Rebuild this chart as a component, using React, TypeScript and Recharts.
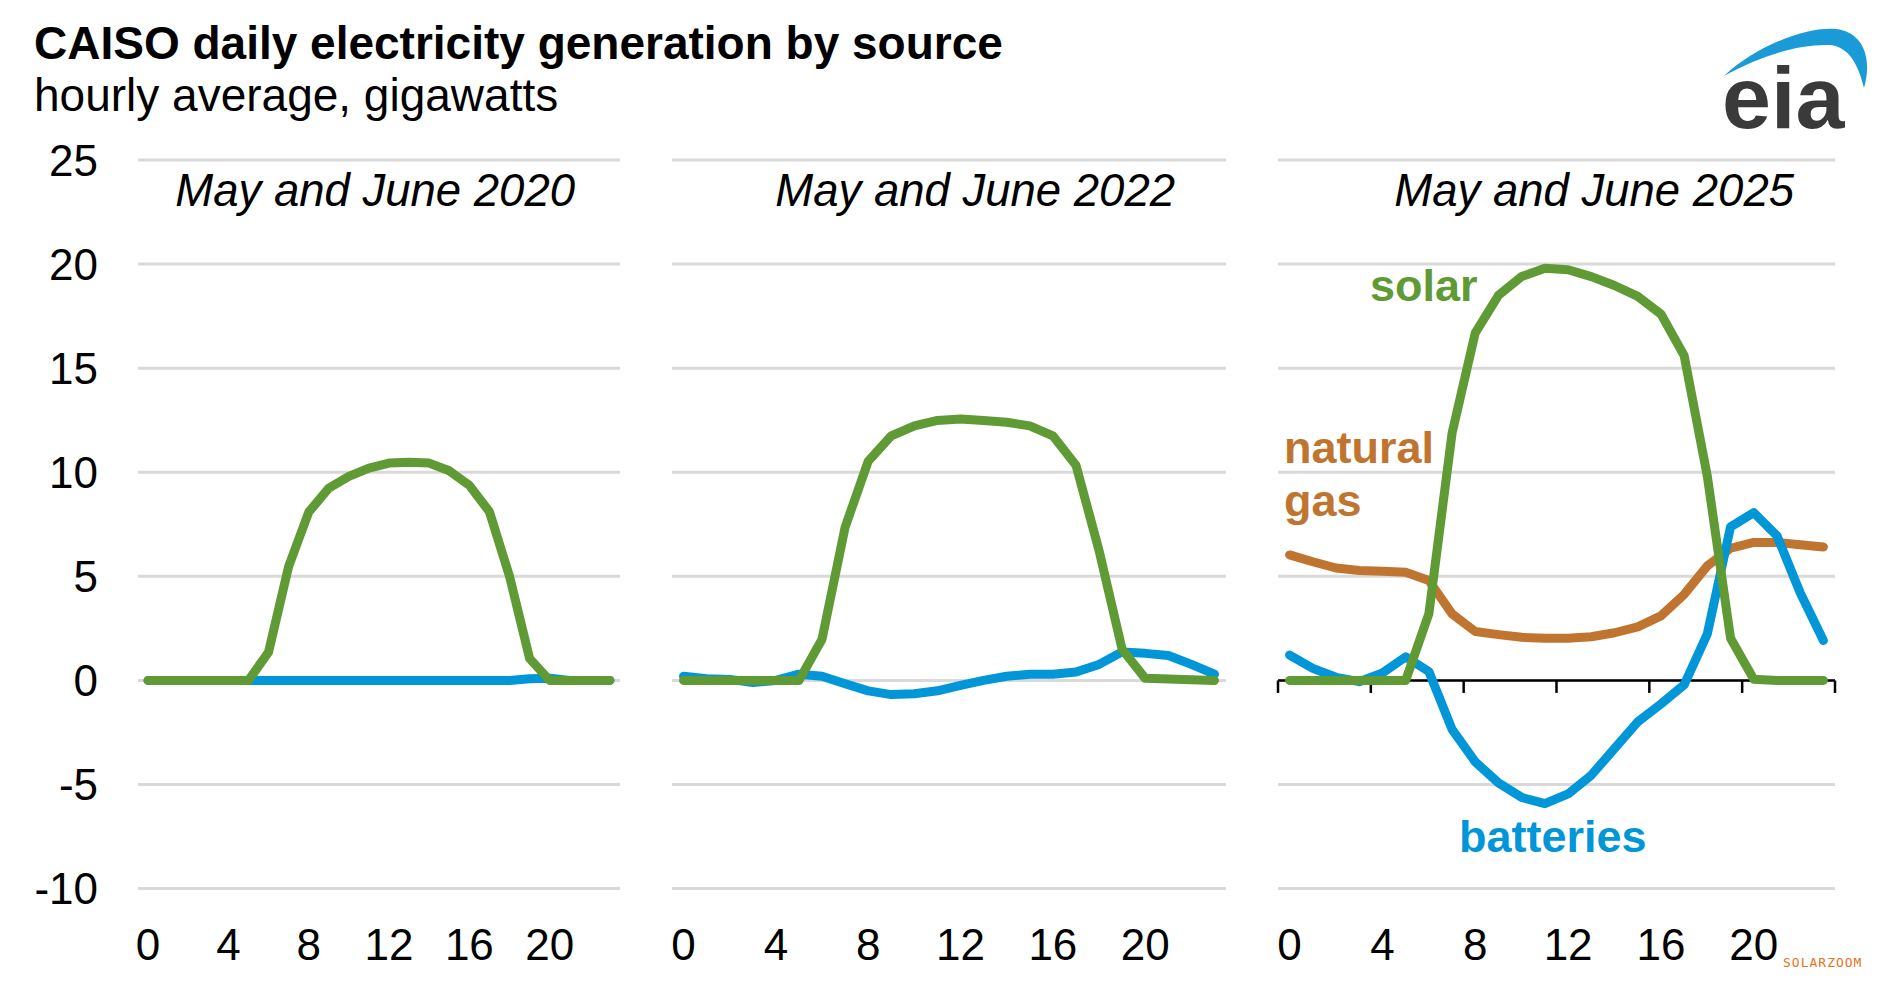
import React from 'react';
import { LineChart, Line, XAxis, YAxis, CartesianGrid, ReferenceLine } from 'recharts';

const hours = [0, 1, 2, 3, 4, 5, 6, 7, 8, 9, 10, 11, 12, 13, 14, 15, 16, 17, 18, 19, 20, 21, 22, 23];
const hourTicks = [0, 4, 8, 12, 16, 20];
const gwTicks = [-10, -5, 0, 5, 10, 15, 20, 25];
// category edges for the tick marks on the 2025 zero axis
const hourEdges = [-0.5, 3.5, 7.5, 11.5, 15.5, 19.5, 23.5];

const solar2020 = [0, 0, 0, 0, 0, 0, 1.36, 5.47, 8.08, 9.24, 9.8, 10.2, 10.44, 10.48, 10.44, 10.07, 9.37, 8.1, 5.0, 1.05, 0, 0, 0, 0];
const batteries2020 = [0, 0, 0, 0, 0, 0, 0, 0, 0, 0, 0, 0, 0, 0, 0, 0, 0, 0, 0, 0.08, 0.1, 0, 0, 0];

const solar2022 = [0, 0, 0, 0, 0, 0, 1.98, 7.36, 10.53, 11.75, 12.23, 12.49, 12.56, 12.49, 12.4, 12.23, 11.75, 10.34, 6.24, 1.5, 0.1, 0.07, 0.03, 0];
const batteries2022 = [0.2, 0.08, 0.05, -0.1, 0, 0.3, 0.2, -0.16, -0.5, -0.68, -0.64, -0.5, -0.24, 0, 0.2, 0.3, 0.3, 0.4, 0.77, 1.37, 1.3, 1.2, 0.77, 0.3];

const solar2025 = [0, 0, 0, 0, 0, 0, 3.2, 11.87, 16.7, 18.5, 19.4, 19.8, 19.73, 19.4, 18.97, 18.45, 17.6, 15.6, 9.8, 2.03, 0.06, 0, 0, 0];
const gas2025 = [6.03, 5.7, 5.4, 5.28, 5.24, 5.2, 4.8, 3.2, 2.35, 2.2, 2.07, 2.03, 2.03, 2.1, 2.29, 2.57, 3.1, 4.13, 5.5, 6.35, 6.63, 6.63, 6.52, 6.41];
const batteries2025 = [1.22, 0.58, 0.15, -0.06, 0.36, 1.13, 0.43, -2.35, -3.91, -4.92, -5.62, -5.92, -5.45, -4.55, -3.27, -1.99, -1.13, -0.21, 2.24, 7.38, 8.06, 6.95, 4.21, 1.92];

const SOLAR = '#5f9a35';
const BATT = '#0096d7';
const GAS = '#bf7530';
const FONT = '"Liberation Sans", Arial, sans-serif';
const LW = 9;

const rows2020 = hours.map((h, i) => ({ hour: h, solar: solar2020[i], batteries: batteries2020[i] }));
const rows2022 = hours.map((h, i) => ({ hour: h, solar: solar2022[i], batteries: batteries2022[i] }));
const rows2025 = hours.map((h, i) => ({ hour: h, solar: solar2025[i], gas: gas2025[i], batteries: batteries2025[i] }));

const tickStyle = { fontSize: 44, fill: '#000', fontFamily: FONT };

function Panel({ data, left, width, margin, showY, zeroAxis, withGas }) {
  return (
    <div style={{ position: 'absolute', left, top: 0 }}>
      <LineChart width={width} height={998} data={data} margin={margin}>
        <CartesianGrid horizontal vertical={false} stroke="#d9d9d9" strokeWidth={3} />
        <XAxis
          type="number"
          dataKey="hour"
          domain={[-0.5, 23.5]}
          ticks={hourTicks}
          interval={0}
          axisLine={false}
          tickLine={false}
          tickMargin={34}
          height={90}
          tick={tickStyle}
        />
        <YAxis
          hide={!showY}
          domain={[-10, 25]}
          ticks={gwTicks}
          interval={0}
          axisLine={false}
          tickLine={false}
          tickMargin={34}
          width={138}
          tick={tickStyle}
        />
        {zeroAxis && <ReferenceLine y={0} stroke="#000" strokeWidth={2.5} />}
        {zeroAxis &&
          hourEdges.map((e) => (
            <ReferenceLine
              key={e}
              segment={[{ x: e, y: 0 }, { x: e, y: -0.6 }]}
              stroke="#000"
              strokeWidth={2.5}
            />
          ))}
        {withGas && (
          <Line type="linear" dataKey="gas" stroke={GAS} strokeWidth={LW} dot={false}
            strokeLinecap="round" strokeLinejoin="round" isAnimationActive={false} />
        )}
        <Line type="linear" dataKey="batteries" stroke={BATT} strokeWidth={LW} dot={false}
          strokeLinecap="round" strokeLinejoin="round" isAnimationActive={false} />
        <Line type="linear" dataKey="solar" stroke={SOLAR} strokeWidth={LW} dot={false}
          strokeLinecap="round" strokeLinejoin="round" isAnimationActive={false} />
      </LineChart>
    </div>
  );
}

export default function App() {
  const panelTitle = { fontSize: 45.5, fontStyle: 'italic', fill: '#000', fontFamily: FONT };
  const seriesLabel = { fontSize: 45, fontWeight: 'bold', fontFamily: FONT };
  return (
    <div style={{ position: 'absolute', left: 0, top: 0, width: 1885, height: 998, background: '#fff', overflow: 'hidden' }}>
      <Panel data={rows2020} left={0} width={640} margin={{ top: 160, right: 20, bottom: 19.4, left: 0 }} showY />
      <Panel data={rows2022} left={652} width={594} margin={{ top: 160, right: 20, bottom: 19.4, left: 20 }} />
      <Panel data={rows2025} left={1258} width={597} margin={{ top: 160, right: 20, bottom: 19.4, left: 20 }} zeroAxis withGas />

      <svg width={1885} height={998} style={{ position: 'absolute', left: 0, top: 0, pointerEvents: 'none' }}>
        <text x={34} y={59} style={{ fontSize: 46, fontWeight: 'bold', fontFamily: FONT }} fill="#000">
          CAISO daily electricity generation by source
        </text>
        <text x={34} y={111} style={{ fontSize: 46, fontFamily: FONT }} fill="#000">
          hourly average, gigawatts
        </text>

        <text x={575} y={206} textAnchor="end" style={panelTitle}>May and June 2020</text>
        <text x={1175} y={206} textAnchor="end" style={panelTitle}>May and June 2022</text>
        <text x={1794} y={206} textAnchor="end" style={panelTitle}>May and June 2025</text>

        <text x={1370} y={301} fill={SOLAR} style={seriesLabel}>solar</text>
        <text x={1284} y={463} fill={GAS} style={seriesLabel}>natural</text>
        <text x={1284} y={516} fill={GAS} style={seriesLabel}>gas</text>
        <text x={1459} y={852} fill={BATT} style={seriesLabel}>batteries</text>

        {/* eia logo */}
        <path
          d="M1724,76 C1758,44 1810,26 1836,29 C1862,32 1873,56 1864,88 C1858,63 1848,46 1829,45 C1798,44 1760,56 1724,76 Z"
          fill="#1a9ad6"
        />
        <text x={1722} y={128} style={{ fontSize: 88, fontWeight: 'bold', fontFamily: FONT }} fill="#3a3a3a">
          eia
        </text>

        <text x={1783} y={967} style={{ fontSize: 13, fontFamily: '"DejaVu Sans Mono", monospace', letterSpacing: 1 }} fill="#e8731b">
          SOLARZOOM
        </text>
      </svg>
    </div>
  );
}
